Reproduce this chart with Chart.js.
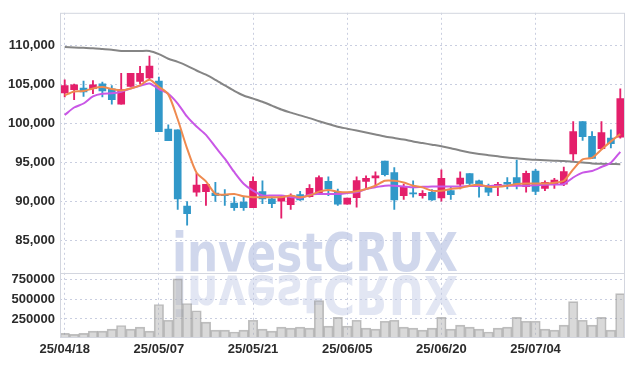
<!DOCTYPE html>
<html>
<head>
<meta charset="utf-8">
<script src="https://cdn.jsdelivr.net/npm/chart.js@4.4.0/dist/chart.umd.min.js"></script>
<style>
  html, body { margin: 0; padding: 0; background: #fff; }
</style>
</head>
<body>
<canvas id="stockChart" width="634" height="366"></canvas>
<script>
const dates = [
  '25/04/18','25/04/21','25/04/22','25/04/23','25/04/24','25/04/25','25/04/28','25/04/29','25/04/30','25/05/02',
  '25/05/07','25/05/08','25/05/09','25/05/12','25/05/13','25/05/14','25/05/15','25/05/16','25/05/19','25/05/20',
  '25/05/21','25/05/22','25/05/23','25/05/26','25/05/27','25/05/28','25/05/29','25/05/30','25/06/02','25/06/04',
  '25/06/05','25/06/09','25/06/10','25/06/11','25/06/12','25/06/13','25/06/16','25/06/17','25/06/18','25/06/19',
  '25/06/20','25/06/23','25/06/24','25/06/25','25/06/26','25/06/27','25/06/30','25/07/01','25/07/02','25/07/03',
  '25/07/04','25/07/07','25/07/08','25/07/09','25/07/10','25/07/11','25/07/14','25/07/15','25/07/16','25/07/17'
];

const opens = [
  103920,104340,104550,104460,105090,104460,102480,104760,105390,105850,
  105430,99280,99200,89430,91200,91280,91110,90950,89810,89940,
  89220,91280,90360,90060,89600,90900,90650,90990,92590,91200,
  89680,90520,92590,93050,95200,93720,90780,91110,90780,91200,
  90480,91410,92250,93600,92670,91960,91910,92460,93090,91910,
  93930,91700,92170,92250,96120,100250,98350,96800,98140,98270
];
const highs = [
  105600,105050,105430,105520,105300,104880,106440,106440,107330,108630,
  105940,99830,99200,90020,93640,92210,92460,91530,90570,90570,
  93180,92670,90570,90780,90990,91320,92170,93300,93180,91620,
  90440,93180,93300,93810,95200,94360,92250,92670,91410,91530,
  94060,91910,93810,93600,92760,92250,92460,93090,95320,93930,
  94140,92670,92970,94440,100250,100250,98990,100250,99200,104460
];
const lows = [
  103410,103070,103490,103830,103410,102480,102480,104760,105090,105680,
  98950,97810,89010,86990,90700,89510,90020,89510,88880,88880,
  89220,89730,89220,87880,89010,90150,90570,90900,90780,89510,
  89680,89300,91530,92170,93300,89010,90270,90570,90440,90150,
  90060,90270,91620,92120,90570,90780,90780,91620,91620,91200,
  90900,91410,91700,92040,95280,97850,95490,96670,96880,98140
];
const closes = [
  104880,104970,104040,104970,104170,103070,104340,106440,106440,107370,
  98950,97810,90360,88470,92130,92210,90780,90780,89220,89220,
  92590,90360,89730,90570,90780,90230,91700,93090,91620,89680,
  90440,92710,92970,93300,93470,90230,91960,90990,91070,90230,
  92970,90900,93010,92330,91910,91200,92210,92250,92040,93640,
  91320,92460,92750,93850,98990,98310,95530,98860,97430,103200
];

// moving averages (5, 20 and long term)
const ma5 = [
  103610,104120,104160,104500,104670,104420,104250,104500,104900,105600,
  104700,103740,100550,96800,93700,92600,91000,90900,90990,90690,
  90570,90570,90570,90570,90780,90570,90780,91280,91490,91280,
  91200,91320,91620,92040,92670,92670,92460,92040,91830,91410,
  91410,91620,91750,92040,92170,91910,91910,92040,92250,92330,
  92330,92330,92420,92670,94140,95410,95620,96670,97720,98650
];
const ma20 = [
  101090,102060,102570,103490,103830,103870,104080,104500,104840,105130,
  104420,103830,102570,100880,99620,98560,97000,95500,93800,92300,
  91400,90800,90780,90780,90600,90450,90900,90980,90980,90980,
  91100,91200,91600,91850,92040,92040,91950,91830,91900,91950,
  91950,91950,91950,92000,92000,92000,92050,92040,92040,92040,
  92100,92170,92200,92250,93090,93720,93930,94440,94990,96380
];
const maLong = [
  109800,109750,109700,109650,109550,109450,109300,109300,109300,109300,
  108900,108300,107900,107400,106800,106260,105600,104900,104200,103600,
  103200,102800,102300,101800,101400,101050,100700,100300,99950,99600,
  99350,99100,98850,98600,98350,98150,97950,97700,97500,97300,
  97100,96850,96550,96300,96100,95950,95800,95650,95550,95420,
  95350,95300,95250,95200,95100,95000,94900,94850,94820,94800
];

const volumes = [
  70000,58000,70000,99000,99000,124000,169000,124000,148000,99000,
  431000,234000,752000,444000,353000,210000,111000,111000,87000,111000,
  234000,124000,99000,148000,136000,148000,136000,481000,160000,271000,
  160000,234000,136000,124000,222000,234000,148000,136000,111000,136000,
  271000,124000,173000,148000,124000,87000,136000,148000,271000,222000,
  222000,124000,111000,173000,468000,234000,173000,271000,111000,567000
];

const priceTicks = [85000, 90000, 95000, 100000, 105000, 110000];
const volumeTicks = [250000, 500000, 750000];

const upColor = '#e41f6b';
const downColor = '#3198c9';
const candleColors = opens.map((o, i) => closes[i] >= o ? upColor : downColor);

const tickFont = { family: '"Liberation Sans", Arial, sans-serif', size: 13, weight: 'bold' };
const tickColor = '#2b2b2b';
const gridColor = '#c9cee0';

// watermark and frame lines
const decor = {
  id: 'decor',
  beforeDatasetsDraw(chart) {
    const ctx = chart.ctx;
    ctx.save();
    ctx.font = 'bold 54px "DejaVu Sans", "Liberation Sans", sans-serif';
    const text = 'investCRUX';
    const sx = 286 / ctx.measureText(text).width;
    ctx.fillStyle = 'rgba(190,199,228,0.72)';
    ctx.translate(172, 271);
    ctx.scale(sx, 1);
    ctx.fillText(text, 0, 0);
    ctx.restore();

    ctx.save();
    ctx.font = 'bold 54px "DejaVu Sans", "Liberation Sans", sans-serif';
    ctx.fillStyle = 'rgba(190,199,228,0.45)';
    ctx.translate(172, 276);
    ctx.scale(sx, -1);
    ctx.fillText(text, 0, 0);
    ctx.restore();
  },
  afterDraw(chart) {
    const ctx = chart.ctx;
    const a = chart.chartArea;
    ctx.save();
    ctx.strokeStyle = '#d3d6df';
    ctx.lineWidth = 1;
    ctx.strokeRect(a.left + 0.5, a.top + 0.5, a.right - a.left - 1, a.bottom - a.top);
    const yb = Math.round(chart.scales.y.bottom) + 0.5;
    ctx.beginPath();
    ctx.moveTo(a.left, yb);
    ctx.lineTo(a.right, yb);
    ctx.stroke();
    ctx.restore();
  }
};

new Chart(document.getElementById('stockChart').getContext('2d'), {
  type: 'bar',
  data: {
    labels: dates,
    datasets: [
      {
        type: 'line', label: 'MA5', data: ma5, yAxisID: 'y', order: 0,
        borderColor: '#ef8a4f', borderWidth: 2, pointRadius: 0, tension: 0.25
      },
      {
        type: 'line', label: 'MA20', data: ma20, yAxisID: 'y', order: 0,
        borderColor: '#c957e6', borderWidth: 2, pointRadius: 0, tension: 0.25
      },
      {
        type: 'line', label: 'MA60', data: maLong, yAxisID: 'y', order: 0,
        borderColor: '#858585', borderWidth: 2, pointRadius: 0, tension: 0.25
      },
      {
        label: 'body', data: opens.map((o, i) => [o, closes[i]]), yAxisID: 'y', order: 1,
        backgroundColor: candleColors, barThickness: 7, minBarLength: 1, grouped: false
      },
      {
        label: 'wick', data: lows.map((l, i) => [l, highs[i]]), yAxisID: 'y', order: 2,
        backgroundColor: candleColors, barThickness: 1.2, grouped: false
      },
      {
        label: 'volume', data: volumes, yAxisID: 'y2', order: 3,
        backgroundColor: 'rgba(170,170,170,0.45)', borderColor: 'rgba(140,140,140,0.55)',
        borderWidth: 1, barPercentage: 1, categoryPercentage: 1, grouped: false
      }
    ]
  },
  options: {
    responsive: false,
    animation: false,
    layout: { padding: { left: 0, right: 9, top: 6, bottom: 0 } },
    plugins: { legend: { display: false }, tooltip: { enabled: false } },
    scales: {
      x: {
        offset: true,
        grid: { offset: false, color: gridColor, drawTicks: false },
        border: { display: false, dash: [2, 3] },
        ticks: { autoSkip: false, maxRotation: 0, padding: 5, font: tickFont, color: tickColor },
        afterBuildTicks: s => { s.ticks = s.ticks.filter(t => t.value % 10 === 0); },
        afterFit: s => { s.height = 29; }
      },
      y2: {
        position: 'left', stack: 'panel', stackWeight: 65,
        min: 24600, max: 824000,
        grid: { color: gridColor, drawTicks: false },
        border: { display: false, dash: [2, 3] },
        ticks: { autoSkip: false, padding: 5, font: tickFont, color: tickColor, callback: v => String(v) },
        afterBuildTicks: s => { s.ticks = volumeTicks.map(v => ({ value: v })); },
        afterFit: s => { s.width = 60; }
      },
      y: {
        position: 'left', stack: 'panel', stackWeight: 265,
        min: 80840, max: 114190,
        grid: { color: gridColor, drawTicks: false },
        border: { display: false, dash: [2, 3] },
        ticks: {
          autoSkip: false, padding: 5, font: tickFont, color: tickColor,
          callback: v => v.toLocaleString('en-US')
        },
        afterBuildTicks: s => { s.ticks = priceTicks.map(v => ({ value: v })); },
        afterFit: s => { s.width = 60; }
      }
    }
  },
  plugins: [decor]
});
</script>
</body>
</html>
